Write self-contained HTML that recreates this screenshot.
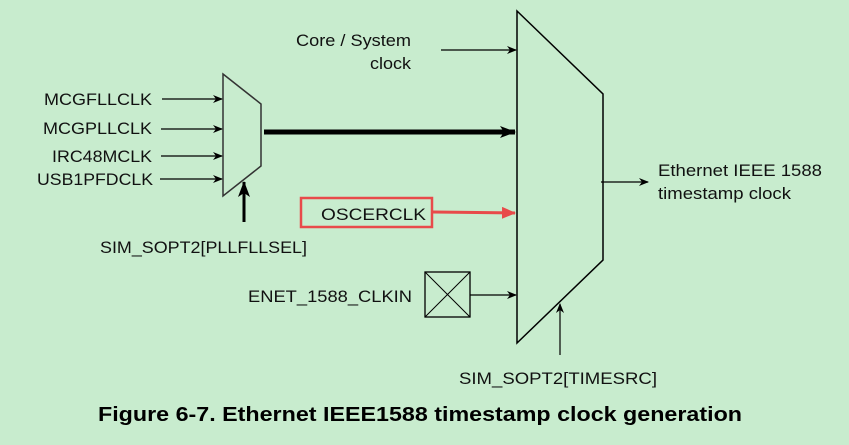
<!DOCTYPE html>
<html><head><style>
body{margin:0;background:#c8ecce;}
svg{display:block;}
text{font-family:"Liberation Sans",sans-serif;font-size:17px;fill:#111;}
</style></head><body>
<svg width="849" height="445" viewBox="0 0 849 445" xmlns="http://www.w3.org/2000/svg">
<defs>
<marker id="a" markerWidth="10" markerHeight="8" refX="9" refY="4" orient="auto" markerUnits="userSpaceOnUse"><path d="M0,0 L10,4 L0,8 L3,4 Z" fill="#000"/></marker>
<marker id="ab" markerWidth="16" markerHeight="12" refX="15" refY="6" orient="auto" markerUnits="userSpaceOnUse"><path d="M0,0 L16,6 L0,12 L4,6 Z" fill="#000"/></marker>
<marker id="ar" markerWidth="14" markerHeight="12" refX="13" refY="6" orient="auto" markerUnits="userSpaceOnUse"><path d="M0,0 L14,6 L0,12 Z" fill="#e84a4a"/></marker>
</defs>
<rect width="849" height="445" fill="#c8ecce"/>
<polygon points="223,74 261,104 261,166 223,196" fill="none" stroke="#333" stroke-width="1.5"/>
<polygon points="517,11 603,94 603,260 517,343" fill="none" stroke="#000" stroke-width="1.5"/>
<g stroke="#000" stroke-width="1.2" fill="none">
<line x1="162" y1="99" x2="222" y2="99" marker-end="url(#a)"/>
<line x1="161" y1="129" x2="222" y2="129" marker-end="url(#a)"/>
<line x1="161" y1="156" x2="222" y2="156" marker-end="url(#a)"/>
<line x1="160" y1="179" x2="222" y2="179" marker-end="url(#a)"/>
<line x1="441" y1="50" x2="516" y2="50" marker-end="url(#a)"/>
<line x1="470" y1="295" x2="516" y2="295" marker-end="url(#a)"/>
<line x1="601" y1="182" x2="648" y2="182" marker-end="url(#a)"/>
<line x1="560" y1="355" x2="560" y2="304" marker-end="url(#a)"/>
</g>
<line x1="264" y1="132" x2="515" y2="132" stroke="#000" stroke-width="5" marker-end="url(#ab)"/>
<line x1="244" y1="222" x2="244" y2="182" stroke="#000" stroke-width="3" marker-end="url(#ab)"/>
<line x1="433" y1="212" x2="515" y2="213" stroke="#e84a4a" stroke-width="3" marker-end="url(#ar)"/>
<rect x="301" y="198" width="131" height="29" fill="none" stroke="#e84a4a" stroke-width="2.5"/>
<rect x="425" y="272" width="45" height="45" fill="none" stroke="#000" stroke-width="1.3"/>
<line x1="425" y1="272" x2="470" y2="317" stroke="#000" stroke-width="1"/>
<line x1="470" y1="272" x2="425" y2="317" stroke="#000" stroke-width="1"/>
<text x="296" y="46" textLength="115" lengthAdjust="spacingAndGlyphs">Core / System</text>
<text x="370" y="69" textLength="41" lengthAdjust="spacingAndGlyphs">clock</text>
<text x="44" y="105" textLength="108" lengthAdjust="spacingAndGlyphs">MCGFLLCLK</text>
<text x="43" y="134" textLength="109" lengthAdjust="spacingAndGlyphs">MCGPLLCLK</text>
<text x="52" y="162" textLength="100" lengthAdjust="spacingAndGlyphs">IRC48MCLK</text>
<text x="37" y="185" textLength="116" lengthAdjust="spacingAndGlyphs">USB1PFDCLK</text>
<text x="321" y="220" textLength="105" lengthAdjust="spacingAndGlyphs">OSCERCLK</text>
<text x="100" y="253" textLength="207" lengthAdjust="spacingAndGlyphs">SIM_SOPT2[PLLFLLSEL]</text>
<text x="248" y="302" textLength="164" lengthAdjust="spacingAndGlyphs">ENET_1588_CLKIN</text>
<text x="658" y="176" textLength="164" lengthAdjust="spacingAndGlyphs">Ethernet IEEE 1588</text>
<text x="658" y="199" textLength="133" lengthAdjust="spacingAndGlyphs">timestamp clock</text>
<text x="459" y="384" textLength="198" lengthAdjust="spacingAndGlyphs">SIM_SOPT2[TIMESRC]</text>
<text x="98" y="421" textLength="644" lengthAdjust="spacingAndGlyphs" style="font-size:20px;font-weight:bold;fill:#000">Figure 6-7. Ethernet IEEE1588 timestamp clock generation</text>
</svg>
</body></html>
